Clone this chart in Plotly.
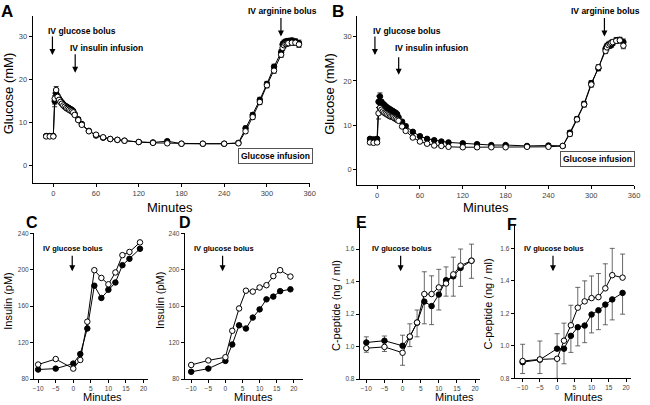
import plotly.graph_objects as go

W, H = 650, 405

# ---------------- data ----------------
tAB = [-10, -5, 0, 2, 4, 6, 8, 10, 12, 14, 16, 18, 20, 22, 24, 26, 28, 30, 35, 40, 50, 60, 70, 80, 90, 100,
       120, 140, 160, 180, 210, 240, 260, 270, 280, 290, 300, 310, 320, 322, 324, 326, 328, 330, 335, 340, 345]

A_open = [6.8, 6.8, 6.8, 15.6, 17.6, 16.0, 15.3, 14.8, 14.4, 14.0, 13.7, 13.4, 13.2, 13.0, 12.8, 12.6, 12.4, 11.8,
          10.6, 9.5, 8.0, 7.2, 6.6, 6.2, 6.0, 5.8, 5.5, 5.3, 5.2, 5.1, 5.1, 5.1, 5.2, 8.0, 11.3, 14.8, 18.7, 22.1,
          25.8, 27.4, 28.0, 28.3, 28.4, 28.5, 28.6, 28.6, 28.2]
A_filled = [6.9, 6.9, 6.9, 15.0, 16.8, 16.2, 15.6, 15.1, 14.7, 14.3, 14.0, 13.8, 13.6, 13.4, 13.2, 13.0, 12.7, 12.0,
            10.8, 9.7, 8.1, 7.0, 6.5, 6.2, 6.0, 5.8, 5.5, 5.4, 5.7, 5.1, 5.1, 5.1, 5.3, 8.7, 11.8, 15.3, 19.0, 23.0,
            26.4, 28.2, 28.6, 28.8, 28.9, 29.0, 29.1, 28.9, 28.5]
A_err = [0.3, 0.3, 0.3, 1.3, 0.8, 0.4, 0.3, 0.3, 0.3, 0.3, 0.3, 0.3, 0.3, 0.3, 0.3, 0.3, 0.3, 0.3,
         0.3, 0.3, 0.3, 0.3, 0.3, 0.3, 0.3, 0.3, 0.3, 0.3, 0.3, 0.3, 0.3, 0.3, 0.3, 0.5, 0.5, 0.6, 0.6, 0.6,
         0.6, 0.6, 0.6, 0.6, 0.6, 0.6, 0.6, 0.6, 0.7]

B_open = [6.1, 6.0, 6.1, 12.7, 13.9, 13.5, 13.1, 12.8, 12.6, 12.4, 12.2, 12.0, 11.9, 11.8, 11.6, 11.4, 11.2, 11.0,
          9.7, 8.7, 7.2, 6.3, 5.8, 5.4, 5.3, 5.1, 5.0, 5.0, 5.0, 5.0, 5.1, 5.1, 5.3, 8.0, 11.3, 14.7, 19.2, 23.1,
          26.8, 27.6, 28.1, 28.4, 28.6, 28.8, 29.1, 29.2, 28.0]
B_filled = [6.9, 6.8, 6.9, 15.3, 16.5, 15.3, 14.9, 14.6, 14.3, 14.0, 13.8, 13.6, 13.4, 13.2, 13.0, 12.8, 12.5, 11.8,
            10.8, 9.8, 8.5, 7.5, 6.9, 6.6, 6.3, 6.1, 5.9, 5.7, 5.5, 5.5, 5.3, 5.4, 5.3, 8.3, 11.4, 14.8, 19.5, 22.9,
            27.3, 27.9, 28.2, 28.0, 28.2, 28.6, 29.2, 29.3, 28.8]
B_err = A_err

tCF = [-10, -5, 0, 2, 4, 6, 8, 10, 12, 14, 16, 19]
C_open = [96, 102, 91.5, 101, 143, 199.5, 191, 184, 197, 216, 219.5, 230]
C_filled = [90.5, 91.5, 97, 107.5, 135.5, 182.5, 169, 178, 186, 205, 212, 223]
D_open = [95.5, 100.5, 104, 133, 157.5, 177, 176, 180.5, 183, 193, 199.5, 192.5]
D_filled = [88, 91.5, 100, 118, 139, 135.5, 147.5, 156.5, 167.5, 170.5, 176.5, 178.5]
E_open = [0.99, 0.998, 0.962, 1.062, 1.148, 1.323, 1.323, 1.364, 1.388, 1.444, 1.498, 1.528]
E_filled = [1.025, 1.036, 1.005, 1.06, 1.147, 1.277, 1.249, 1.32, 1.408, 1.432, 1.484, 1.528]
E_top = [1.06, 1.065, 1.07, 1.14, 1.225, 1.46, 1.435, 1.475, 1.49, 1.55, 1.60, 1.63]
E_bot = [0.965, 0.97, 0.885, 1.0, 1.06, 1.14, 1.135, 1.225, 1.31, 1.31, 1.37, 1.42]
F_open = [0.907, 0.917, 0.921, 1.032, 1.127, 1.235, 1.274, 1.294, 1.30, 1.354, 1.435, 1.42]
F_filled = [0.90, 0.915, 0.983, 0.983, 1.062, 1.115, 1.125, 1.193, 1.219, 1.254, 1.286, 1.326]
F_top = [1.01, 1.03, 1.075, 1.14, 1.25, 1.36, 1.40, 1.43, 1.445, 1.505, 1.60, 1.565]
F_bot = [0.83, 0.83, 0.80, 0.89, 0.96, 1.0, 1.02, 1.08, 1.10, 1.13, 1.16, 1.195]

FONT = "Arial, Liberation Sans, sans-serif"
fig = go.Figure()


def add_pair(xa, ya, t, filled, opened, msize, err_f=None, err_o=None, eplus_f=None, eminus_f=None,
             eplus_o=None, eminus_o=None):
    def eb(sym, plus, minus):
        if sym is not None:
            return dict(type='data', array=sym, visible=True, color='black', thickness=0.8, width=2.5)
        if plus is not None:
            return dict(type='data', symmetric=False, array=plus, arrayminus=minus, visible=True,
                        color='#444', thickness=0.8, width=2.5)
        return None
    fig.add_trace(go.Scatter(x=t, y=filled, xaxis=xa, yaxis=ya, mode='lines+markers',
                             line=dict(color='black', width=1),
                             marker=dict(symbol='circle', size=msize, color='black',
                                         line=dict(color='black', width=1)),
                             error_y=eb(err_f, eplus_f, eminus_f), showlegend=False, cliponaxis=False))
    fig.add_trace(go.Scatter(x=t, y=opened, xaxis=xa, yaxis=ya, mode='lines+markers',
                             line=dict(color='black', width=1),
                             marker=dict(symbol='circle', size=msize, color='white',
                                         line=dict(color='black', width=1)),
                             error_y=eb(err_o, eplus_o, eminus_o), showlegend=False, cliponaxis=False))


def split_err(op, fi, top, bot):
    po, mo, pf, mf = [], [], [], []
    for o, f, tp, bt in zip(op, fi, top, bot):
        if o >= f:
            po.append(tp - o); mo.append(0); pf.append(0); mf.append(f - bt)
        else:
            pf.append(tp - f); mf.append(0); po.append(0); mo.append(o - bt)
    return po, mo, pf, mf


add_pair('x', 'y', tAB, A_filled, A_open, 5.5, err_f=A_err, err_o=A_err)
add_pair('x2', 'y2', tAB, B_filled, B_open, 5.5, err_f=B_err, err_o=B_err)
add_pair('x3', 'y3', tCF, C_filled, C_open, 5.5)
add_pair('x4', 'y4', tCF, D_filled, D_open, 5.5)
po, mo, pf, mf = split_err(E_open, E_filled, E_top, E_bot)
add_pair('x5', 'y5', tCF, E_filled, E_open, 5.5, eplus_f=pf, eminus_f=mf, eplus_o=po, eminus_o=mo)
po, mo, pf, mf = split_err(F_open, F_filled, F_top, F_bot)
add_pair('x6', 'y6', tCF, F_filled, F_open, 5.5, eplus_f=pf, eminus_f=mf, eplus_o=po, eminus_o=mo)


def xdom(a, b):
    return [a / W, b / W]


def ydom(top, bottom):
    return [1 - bottom / H, 1 - top / H]


def axis_common(fs):
    return dict(showline=True, linecolor='black', linewidth=1, ticks='outside', ticklen=3, tickwidth=1,
                tickcolor='black', showgrid=False, zeroline=False,
                tickfont=dict(family=FONT, size=fs, color='#444'))


lay = dict(width=W, height=H, margin=dict(l=0, r=0, t=0, b=0), plot_bgcolor='white', paper_bgcolor='white',
           showlegend=False)

axes = [
    # name, xdomain, ydomain, xrange, yrange, xticks, yticks, fs, yfmt
    ('', xdom(32, 312), ydom(12.7, 182), [-29, 360], [-4, 34.7], list(range(0, 361, 60)), [0, 10, 20, 30], 7.5, None),
    ('2', xdom(360, 640), ydom(12.7, 184), [-28, 360], [-3.5, 34.6], list(range(0, 361, 60)), [0, 10, 20, 30], 7.5, None),
    ('3', xdom(33.3, 148.3), ydom(233.3, 381.7), [-11.2, 21.2], [80, 240], [-10, -5, 0, 5, 10, 15, 20], [80, 120, 160, 200, 240], 6.5, None),
    ('4', xdom(185.7, 305.7), ydom(233.3, 381.7), [-11.9, 22.8], [80, 240], [-10, -5, 0, 5, 10, 15, 20], [80, 120, 160, 200, 240], 6.5, None),
    ('5', xdom(362.7, 484), ydom(225, 381.7), [-11.8, 21.3], [0.8, 1.747], [-10, -5, 0, 5, 10, 15, 20], [0.8, 1.0, 1.2, 1.4, 1.6], 6.5, '.1f'),
    ('6', xdom(519.3, 636.7), ydom(225, 381), [-12.3, 21.4], [0.8, 1.743], [-10, -5, 0, 5, 10, 15, 20], [0.8, 1.0, 1.2, 1.4, 1.6], 6.5, '.1f'),
]
for n, xd, yd, xr, yr, xt, yt, fs, yfmt in axes:
    xa = axis_common(fs)
    xa.update(domain=xd, range=xr, tickvals=xt, anchor='y' + n)
    ya = axis_common(fs)
    ya.update(domain=yd, range=yr, tickvals=yt, anchor='x' + n)
    if yfmt:
        ya['tickformat'] = yfmt
    lay['xaxis' + n] = xa
    lay['yaxis' + n] = ya

fig.update_layout(**lay)


def P(x, y):
    return dict(x=x / W, y=1 - y / H, xref='paper', yref='paper')


def text(x, y, s, size, bold=False, angle=0, xanchor='center', box=False):
    d = P(x, y)
    d.update(text=('<b>%s</b>' % s) if bold else s, showarrow=False, xanchor=xanchor, yanchor='middle',
             textangle=angle, font=dict(family=FONT, size=size, color='black'))
    if box:
        d.update(bordercolor='#555', borderwidth=1, borderpad=2, bgcolor='white')
    fig.add_annotation(**d)


def arrow(x, y0, y1):
    d = P(x, y1)
    d.update(text='', showarrow=True, arrowhead=2, arrowsize=1, arrowwidth=1.2, arrowcolor='black',
             axref='pixel', ayref='pixel', ax=0, ay=-(y1 - y0))
    fig.add_annotation(**d)


# panel letters
for s, x, y, fs in [('A', 6, 8, 17), ('B', 341, 8, 17), ('C', 31, 222, 16), ('D', 186, 222, 16),
                    ('E', 364, 222, 16), ('F', 517, 224, 16)]:
    text(x, y, s, fs, bold=True)

# axis titles
text(8, 91, 'Glucose (mM)', 13, angle=-90)
text(332, 91, 'Glucose (mM)', 13, angle=-90)
text(171, 207.5, 'Minutes', 13)
text(490, 207.5, 'Minutes', 13)
text(7, 302, 'Insulin (pM)', 11, angle=-90)
text(161, 302, 'Insulin (pM)', 11, angle=-90)
text(338, 307, 'C-peptide (ng / ml)', 11, angle=-90)
text(492, 305, 'C-peptide (ng / ml)', 11, angle=-90)
for x in [103, 255, 458, 589]:
    text(x, 399.5, 'Minutes', 11)

# panel A annotations
text(82, 27, 'IV glucose bolus', 8.5, bold=True)
arrow(52, 32, 52)
text(107, 45, 'IV insulin infusion', 8.5, bold=True)
arrow(75, 50, 70)
text(285, 7, 'IV arginine bolus', 8.5, bold=True)
arrow(283, 13, 33)
text(277, 155, 'Glucose infusion', 8.5, bold=True, box=True)

# panel B annotations
text(410, 27, 'IV glucose bolus', 8.5, bold=True)
arrow(378, 32, 52)
text(435, 45, 'IV insulin infusion', 8.5, bold=True)
arrow(402, 53, 72)
text(611, 7, 'IV arginine bolus', 8.5, bold=True)
arrow(610, 13, 33)
text(603, 158, 'Glucose infusion', 8.5, bold=True, box=True)

# panels C-F annotations
for tx, ax_ in [(73, 72), (225, 224), (405, 404), (559, 558)]:
    text(tx, 249, 'IV glucose bolus', 7.5, bold=True)
    arrow(ax_, 255, 272)

fig.write_html("out.html", config={'displayModeBar': False},
               post_script="document.body.style.margin='0';document.body.style.overflow='hidden';")
